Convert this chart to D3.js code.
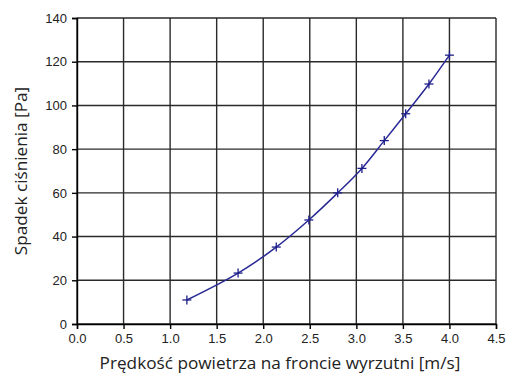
<!DOCTYPE html>
<html><head><meta charset="utf-8">
<script src="https://cdn.jsdelivr.net/npm/d3@7"></script>
<style>body{margin:0;background:#fff}</style>
</head><body>
<svg id="c" width="509" height="376"></svg>
<script>
const velocity = [1.18, 1.73, 2.14, 2.49, 2.80, 3.06, 3.30, 3.53, 3.78, 4.00];
const pressureDrop = [11, 23.3, 35.2, 47.6, 60, 71.2, 83.9, 96.2, 109.8, 123];
const xTicks = [0, 0.5, 1, 1.5, 2, 2.5, 3, 3.5, 4, 4.5];
const yTicks = [0, 20, 40, 60, 80, 100, 120, 140];
const xTitle = "Prędkość powietrza na froncie wyrzutni [m/s]";
const yTitle = "Spadek ciśnienia [Pa]";

const svg = d3.select("#c");
const m = {l:77, r:496, t:18, b:324};
const x = d3.scaleLinear().domain([0,4.5]).range([m.l, m.r]);
const y = d3.scaleLinear().domain([0,140]).range([m.b, m.t]);

const g = svg.append("g");
// grid
g.selectAll(".vg").data(xTicks).join("line")
  .attr("x1", d=>x(d)).attr("x2", d=>x(d)).attr("y1", m.t).attr("y2", m.b)
  .attr("stroke", "#2a2a2a").attr("stroke-width", 1.4);
g.selectAll(".hg").data(yTicks).join("line")
  .attr("y1", d=>y(d)).attr("y2", d=>y(d)).attr("x1", m.l).attr("x2", m.r)
  .attr("stroke", "#2a2a2a").attr("stroke-width", 1.4);

// axes
const xa = svg.append("g").attr("transform", `translate(0,${m.b})`)
  .call(d3.axisBottom(x).tickValues(xTicks).tickFormat(d3.format(".1f")).tickSizeOuter(0).tickSize(5).tickPadding(5));
const ya = svg.append("g").attr("transform", `translate(${m.l},0)`)
  .call(d3.axisLeft(y).tickValues(yTicks).tickSizeOuter(0).tickSize(5).tickPadding(5));
[xa, ya].forEach(a => {
  a.selectAll("path").attr("stroke", "#000").attr("stroke-width", 1.4);
  a.selectAll("line").attr("stroke", "#000").attr("stroke-width", 1.4);
  a.selectAll("text").attr("font-family", "Liberation Sans, Arial, sans-serif")
    .attr("font-size", 13).attr("fill", "#222");
});

// line
const pts = velocity.map((v,i)=>[v, pressureDrop[i]]);
svg.append("path").datum(pts)
  .attr("d", d3.line().x(d=>x(d[0])).y(d=>y(d[1])).curve(d3.curveCatmullRom))
  .attr("fill", "none").attr("stroke", "#2a2a96").attr("stroke-width", 1.5);
const s = 4.5;
const mk = svg.selectAll(".mk").data(pts).join("g")
  .attr("transform", d=>`translate(${x(d[0])},${y(d[1])})`);
mk.append("line").attr("x1",-s).attr("x2",s).attr("stroke","#1e1e8a").attr("stroke-width",1.3);
mk.append("line").attr("y1",-s).attr("y2",s).attr("stroke","#1e1e8a").attr("stroke-width",1.3);

// titles
svg.append("text").attr("x", 280).attr("y", 369).attr("text-anchor","middle")
  .attr("font-family","Open Sans, sans-serif").attr("font-size",17.2).attr("fill","#222").text(xTitle);
svg.append("text").attr("transform", `translate(27,${(m.t+m.b)/2}) rotate(-90)`).attr("text-anchor","middle")
  .attr("font-family","Open Sans, sans-serif").attr("font-size",17.2).attr("fill","#222").text(yTitle);
</script>
</body></html>
